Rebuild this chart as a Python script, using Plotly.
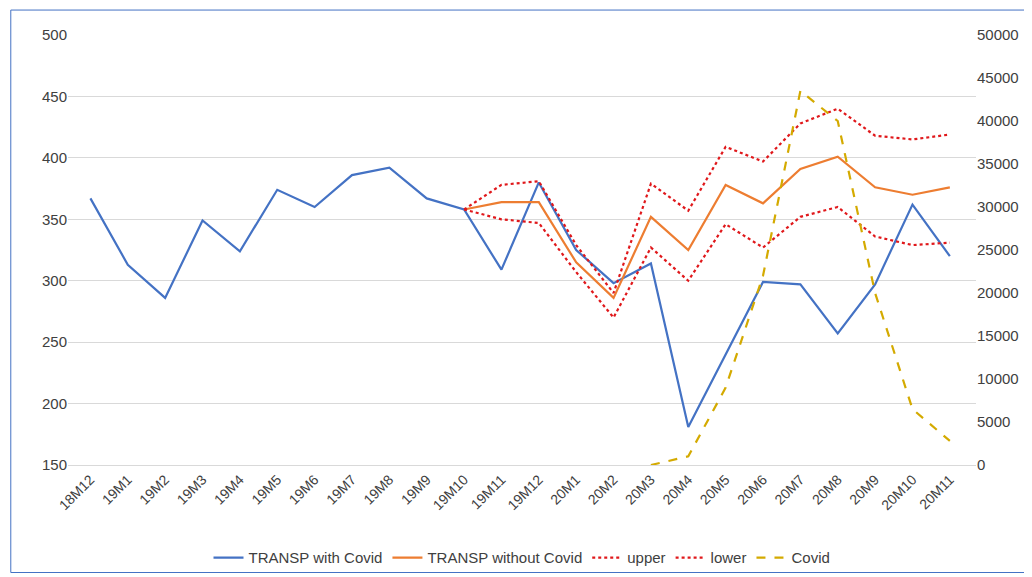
import plotly.graph_objects as go

months = ["18M12"] + [f"19M{i}" for i in range(1, 13)] + [f"20M{i}" for i in range(1, 12)]

with_covid = [367, 313, 286, 349, 324, 374, 360, 386, 392, 367, 358, 309, 380,
              325, 298, 314, 181, 240, 299, 297, 257, 297, 362, 320]
pad = [None] * 10
without_covid = pad + [358, 364, 364, 315, 286, 352, 325, 378, 363, 391, 401, 376, 370, 376]
upper = pad + [358, 378, 381, 329, 290, 379, 357, 409, 397, 428, 440, 418, 415, 419]
lower = pad + [358, 350, 347, 307, 270, 327, 300, 346, 327, 352, 360, 336, 329, 331]
covid = [None] * 15 + [0, 1000, 9000, 22000, 43500, 40000, 20000, 6500, 2800]

fig = go.Figure()
fig.add_trace(go.Scatter(x=months, y=with_covid, name="TRANSP with Covid", mode="lines",
                         line=dict(color="#4472C4", width=2.2)))
fig.add_trace(go.Scatter(x=months, y=without_covid, name="TRANSP without Covid", mode="lines",
                         line=dict(color="#ED7D31", width=2.2)))
fig.add_trace(go.Scatter(x=months, y=upper, name="upper", mode="lines",
                         line=dict(color="#E0181B", width=2.2, dash="dot")))
fig.add_trace(go.Scatter(x=months, y=lower, name="lower", mode="lines",
                         line=dict(color="#E0181B", width=2.2, dash="dot")))
fig.add_trace(go.Scatter(x=months, y=covid, name="Covid", mode="lines", yaxis="y2",
                         line=dict(color="#D4AA00", width=2.2, dash="dash")))

fig.update_layout(
    width=1032, height=577,
    paper_bgcolor="white", plot_bgcolor="white",
    margin=dict(l=60, r=64, t=27, b=120, autoexpand=False),
    font=dict(family="Liberation Sans, Arial", color="#404040", size=15),
    xaxis=dict(tickangle=-45, showgrid=False, showline=True, linecolor="#D9D9D9",
               range=[-0.6, 23.7], tickfont=dict(size=14), automargin=False),
    yaxis=dict(range=[150, 500], dtick=50, gridcolor="#D9D9D9", zeroline=False,
               automargin=False),
    yaxis2=dict(range=[0, 50000], dtick=5000, overlaying="y", side="right",
                showgrid=False, zeroline=False, tickformat="d", automargin=False),
    legend=dict(orientation="h", x=0.5, xanchor="center", y=-0.216, yanchor="middle",
                font=dict(size=15), bgcolor="rgba(0,0,0,0)"),
    shapes=[dict(type="rect", xref="paper", yref="paper", x0=-0.063, x1=1.067,
                 y0=-0.25, y1=1.058, line=dict(color="#4472C4", width=1))],
)

fig.write_html("out.html")
